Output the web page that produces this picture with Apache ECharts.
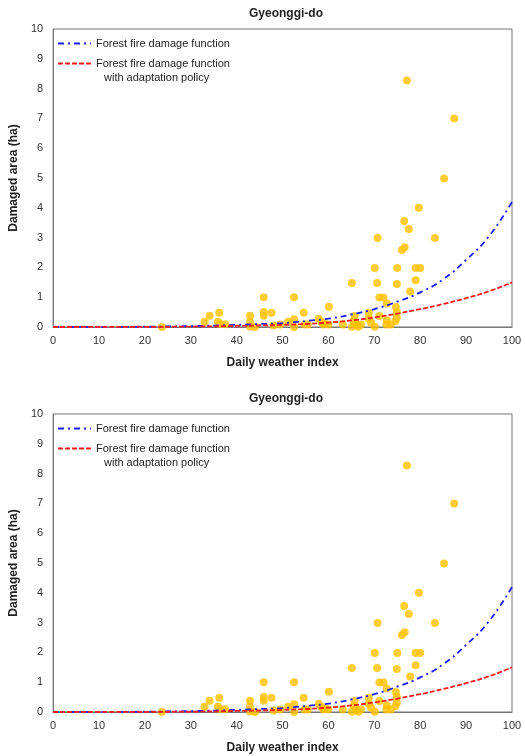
<!DOCTYPE html>
<html>
<head>
<meta charset="utf-8">
<script src="https://cdn.jsdelivr.net/npm/echarts@6/dist/echarts.min.js"></script>
<style>
  html, body { margin: 0; padding: 0; background: #fff; }
  #chart { width: 525px; height: 756px; }
</style>
</head>
<body>
<div id="chart"></div>
<script>
// observed damage points [daily weather index, damaged area (ha)]
const observed = [
  [23.7, 0.0], [33.0, 0.18], [34.1, 0.38], [35.9, 0.18], [36.2, 0.48], [36.4, 0.1], [37.5, 0.09],
  [42.9, 0.38], [42.9, 0.18], [42.9, 0.02], [44.0, 0.0], [45.9, 1.0], [45.9, 0.5], [45.9, 0.38],
  [47.6, 0.48], [48.0, 0.05], [49.5, 0.08], [51.2, 0.18], [52.5, 1.0], [52.5, 0.26], [52.5, 0.0],
  [54.6, 0.48], [54.8, 0.08], [55.5, 0.08], [57.9, 0.28], [58.4, 0.18], [58.9, 0.08], [59.2, 0.11],
  [60.0, 0.08], [60.1, 0.68], [63.1, 0.08], [65.1, 1.48], [65.1, 0.01], [65.5, 0.2], [65.7, 0.37],
  [66.0, 0.08], [66.5, 0.01], [67.1, 0.08], [68.8, 0.48], [68.8, 0.28], [69.3, 0.14], [70.1, 1.98],
  [70.1, 0.01], [70.6, 1.48], [70.7, 2.99], [71.1, 0.99], [71.1, 0.37], [72.0, 0.99], [72.6, 0.08],
  [72.7, 0.79], [72.7, 0.23], [73.6, 0.08], [74.6, 0.2], [74.7, 0.67], [74.9, 1.44], [74.9, 0.5],
  [74.9, 0.31], [75.0, 1.98], [76.0, 2.58], [76.5, 3.56], [76.6, 2.68], [77.1, 8.27], [77.5, 3.29],
  [77.8, 1.19], [79.0, 1.98], [79.0, 1.57], [79.7, 4.0], [80.0, 1.98], [83.2, 2.99], [85.2, 4.98],
  [87.4, 7.0]
]

// fitted curves
const curveX = [0, 10, 20, 30, 40, 45, 50, 55, 60, 65, 70, 75, 80, 85, 90, 95, 100]
const damageFn = [0, 0.003, 0.01, 0.03, 0.07, 0.1, 0.13, 0.2, 0.28, 0.42, 0.6, 0.85, 1.16, 1.6, 2.25, 3.05, 4.2]
const adaptFn = [0, 0.002, 0.005, 0.015, 0.035, 0.05, 0.07, 0.1, 0.15, 0.22, 0.32, 0.45, 0.6, 0.77, 0.97, 1.2, 1.5]

const xTicks = { min: 0, max: 100, interval: 10 }
const yTicks = { min: 0, max: 10, interval: 1 }

const chartTitle = 'Gyeonggi-do'
const nameFn = 'Forest fire damage function'
const nameAdapt = 'Forest fire damage function with adaptation policy'

const font = 'Liberation Sans'
const blue = '#1a1aff'
const red = '#ff1a1a'
const pairs = (xs, ys) => xs.map((x, i) => [x, ys[i]])

function buildPanel (idx, top) {
  return {
    title: {
      text: chartTitle,
      left: 281,
      top: top - 26,
      textAlign: 'center',
      textStyle: { fontFamily: font, fontSize: 12, fontWeight: 'bold', color: '#222' }
    },
    grid: {
      left: 50, right: 13, top: top, height: 298,
      show: true, borderColor: '#777', borderWidth: 1
    },
    xAxis: {
      type: 'value', gridIndex: idx, ...xTicks,
      name: 'Daily weather index', nameLocation: 'middle', nameGap: 30,
      nameTextStyle: { fontFamily: font, fontSize: 12, fontWeight: 'bold', color: '#222' },
      axisLine: { lineStyle: { color: '#777' } },
      axisTick: { show: false },
      splitLine: { show: false },
      axisLabel: { fontFamily: font, fontSize: 11, color: '#333', margin: 8 }
    },
    yAxis: {
      type: 'value', gridIndex: idx, ...yTicks,
      name: 'Damaged area (ha)', nameLocation: 'middle', nameGap: 24,
      nameTextStyle: { fontFamily: font, fontSize: 12, fontWeight: 'bold', color: '#222' },
      axisLine: { show: true, lineStyle: { color: '#777' } },
      axisTick: { show: false },
      splitLine: { show: false },
      axisLabel: { fontFamily: font, fontSize: 11, color: '#333', margin: 10 }
    },
    legend: {
      data: [nameFn, nameAdapt],
      orient: 'vertical',
      left: 52, top: top + 4,
      itemWidth: 33, itemHeight: 12, itemGap: 9,
      itemStyle: { opacity: 0 },
      formatter: n => n === nameAdapt ? nameFn : n,
      textStyle: { fontFamily: font, fontSize: 11, color: '#222' }
    },
    graphic: {
      type: 'text', left: 104, top: top + 43,
      style: { text: 'with adaptation policy', font: '11px "Liberation Sans"', fill: '#222' }
    },
    series: [
      {
        type: 'scatter', xAxisIndex: idx, yAxisIndex: idx,
        data: observed, symbolSize: 8,
        itemStyle: { color: '#FFC000' }, z: 2
      },
      {
        name: nameFn, type: 'line', xAxisIndex: idx, yAxisIndex: idx,
        data: pairs(curveX, damageFn), smooth: true, symbol: 'none',
        itemStyle: { color: blue },
        lineStyle: { color: blue, width: 1.8, type: [6, 4, 2, 4] }, z: 3
      },
      {
        name: nameAdapt, type: 'line', xAxisIndex: idx, yAxisIndex: idx,
        data: pairs(curveX, adaptFn), smooth: true, symbol: 'none',
        itemStyle: { color: red },
        lineStyle: { color: red, width: 1.8, type: [5, 2] }, z: 3
      }
    ]
  }
}

const panels = [buildPanel(0, 29), buildPanel(1, 414)]
const myChart = echarts.init(document.getElementById('chart'))
myChart.setOption({
  backgroundColor: '#fff',
  animation: false,
  title: panels.map(p => p.title),
  grid: panels.map(p => p.grid),
  xAxis: panels.map(p => p.xAxis),
  yAxis: panels.map(p => p.yAxis),
  legend: panels.map(p => p.legend),
  graphic: panels.map(p => p.graphic),
  series: panels.flatMap(p => p.series)
})
</script>
</body>
</html>
